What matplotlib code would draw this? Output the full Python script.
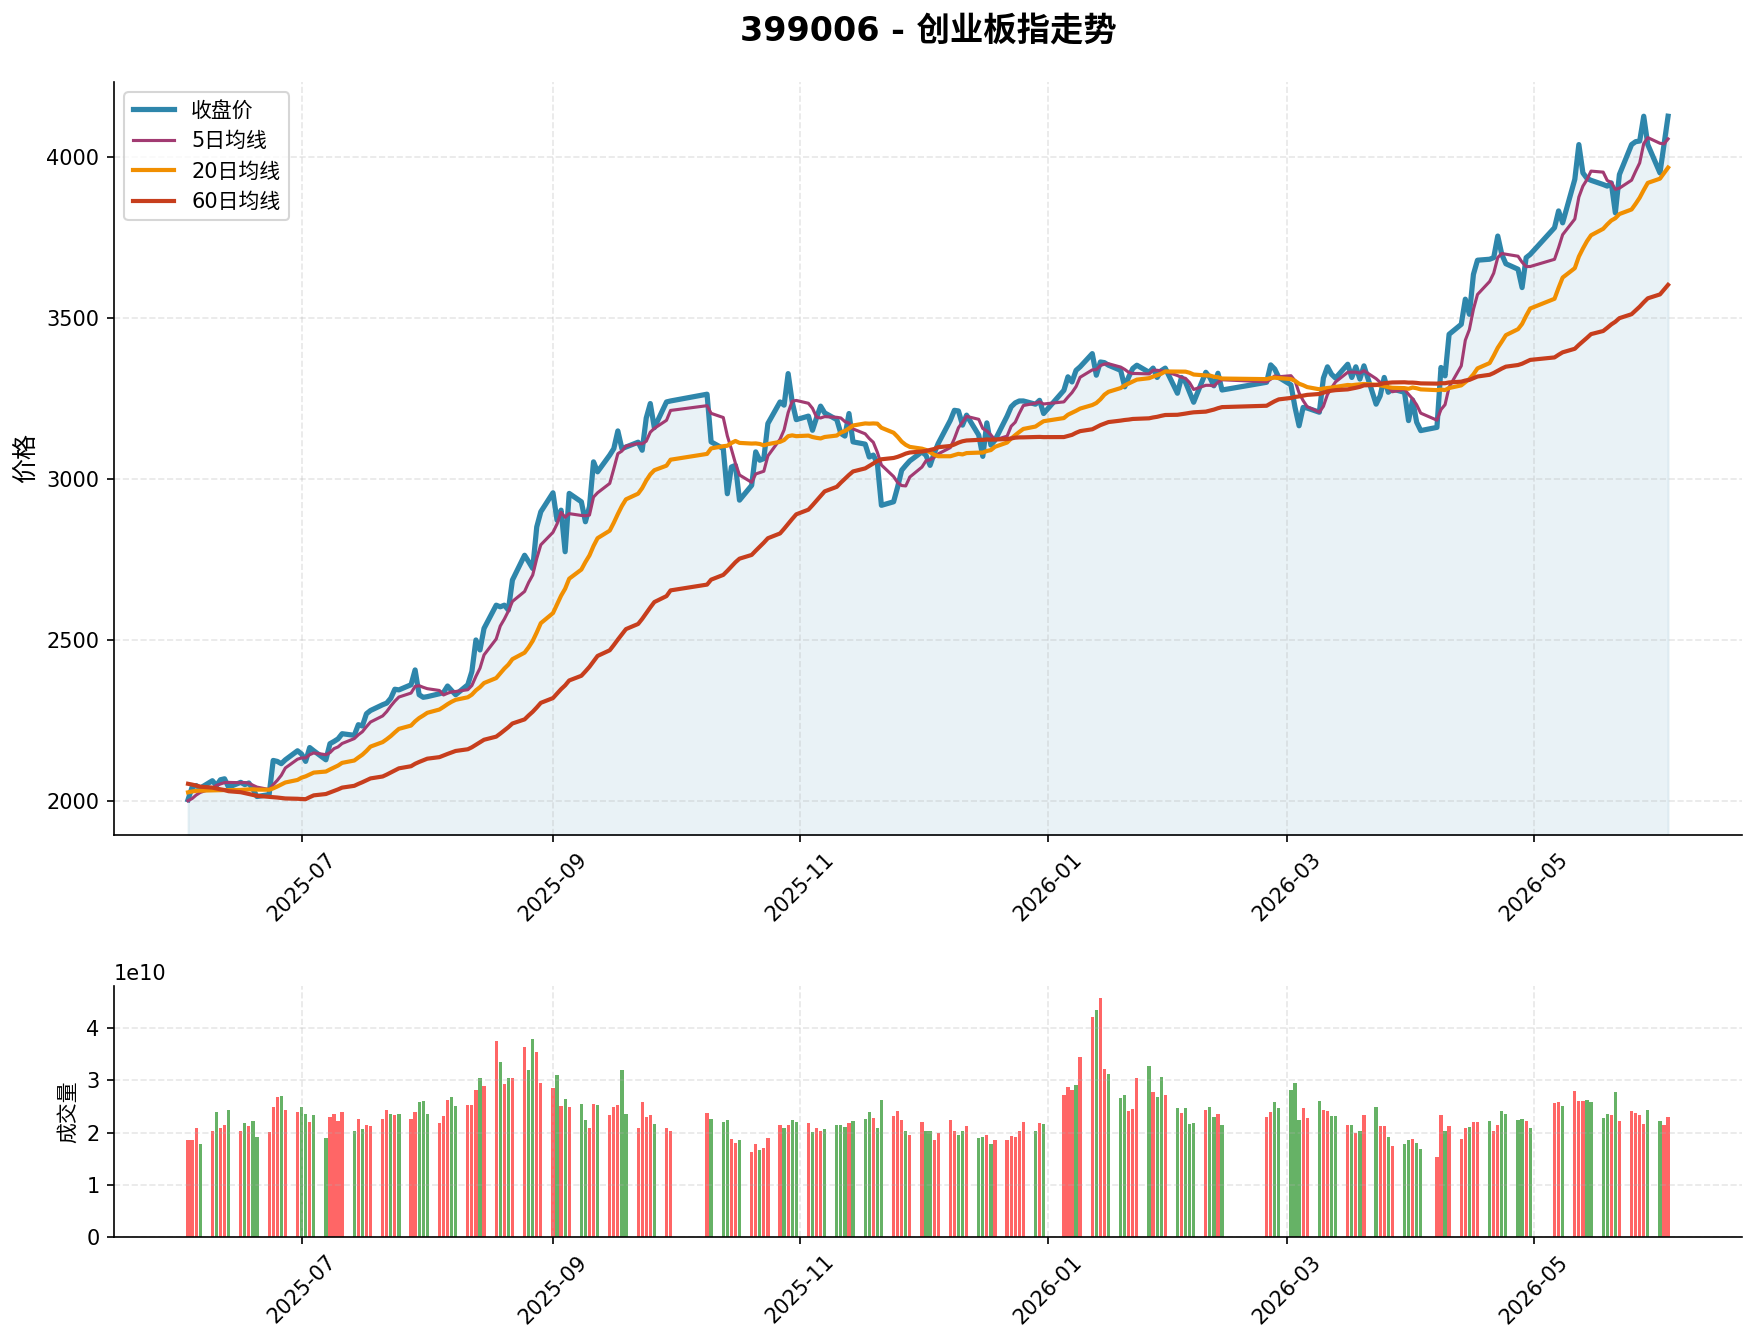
import numpy as np
import pandas as pd
import matplotlib
matplotlib.use("Agg")
import matplotlib.pyplot as plt
import matplotlib.dates as mdates

plt.rcParams['font.family'] = ['DejaVu Sans', 'Noto Sans CJK SC']
plt.rcParams['axes.unicode_minus'] = False

# trading calendar (SZSE), holidays removed from business days
start_date = '2025-06-03'
end_date = '2026-06-03'
holidays = ['2025-10-01', '2025-10-02', '2025-10-03', '2025-10-06', '2025-10-07', '2025-10-08',
            '2026-01-01', '2026-01-02',
            '2026-02-16', '2026-02-17', '2026-02-18', '2026-02-19', '2026-02-20', '2026-02-23',
            '2026-04-06', '2026-05-01', '2026-05-04', '2026-05-05']

# closes before the window, only used to seed the moving averages
pre_close = [2190, 2230, 2250, 2240, 2210, 2225, 2205, 2260, 2245, 2230,
             2215, 2200, 2190, 2210, 2195, 2185, 2200, 2220, 2215, 2195,
             2150, 1795, 1820, 1880, 1890, 1905, 1900, 1880, 1870, 1885,
             1914, 1919, 1929, 1939, 1954, 1944, 1949, 1959, 1964, 1954,
             1990, 2010, 2030, 2045, 2040, 2060, 2070, 2050, 2045, 2035,
             2040, 2030, 2035, 2030, 2041, 2010, 1995, 2000, 1999]

close_jun = [2005, 2044, 2049, 2041, 2064, 2049, 2067, 2070, 2044, 2059,
             2052, 2057, 2038, 2015, 2021, 2127, 2124, 2117, 2129]
close_jul = [2157, 2147, 2124, 2167, 2157, 2129, 2179, 2186, 2194, 2210,
             2205, 2238, 2234, 2272, 2282, 2300, 2305, 2320, 2348, 2346,
             2362, 2408, 2331, 2323, 2325]
close_aug = [2334, 2338, 2358, 2344, 2331, 2362, 2403, 2501, 2470, 2537,
             2609, 2604, 2609, 2594, 2687, 2764, 2744, 2723, 2852, 2899]
close_sep = [2958, 2873, 2904, 2775, 2956, 2930, 2868, 2915, 3054, 3023,
             3075, 3095, 3150, 3095, 3100, 3115, 3090, 3190, 3235, 3160,
             3240, 3243]
close_oct = [3264, 3116, 3095, 2955, 3038, 3043, 2935, 2981, 3085, 3059,
             3064, 3173, 3240, 3230, 3328, 3240, 3185]
close_nov = [3196, 3152, 3191, 3227, 3206, 3185, 3142, 3134, 3204, 3116,
             3109, 3069, 3075, 3049, 2919, 2930, 2976, 3028, 3043, 3057]
close_dec = [3085, 3074, 3043, 3080, 3111, 3183, 3214, 3212, 3168, 3199,
             3137, 3071, 3175, 3106, 3121, 3196, 3225, 3237, 3243, 3243,
             3233, 3245, 3204]
close_jan = [3276, 3318, 3302, 3338, 3349, 3390, 3323, 3364, 3362, 3354,
             3338, 3287, 3318, 3344, 3354, 3332, 3345, 3316, 3337, 3345]
close_feb = [3267, 3316, 3301, 3270, 3239, 3332, 3316, 3290, 3329, 3277,
             3301, 3355, 3342, 3316]
close_mar = [3293, 3223, 3166, 3223, 3221, 3208, 3314, 3349, 3326, 3314,
             3357, 3316, 3349, 3311, 3352, 3233, 3259, 3316, 3270, 3280,
             3270, 3182, 3246, 3177, 3151]
close_apr = [3161, 3347, 3321, 3450, 3481, 3559, 3512, 3636, 3680, 3683,
             3688, 3755, 3698, 3669, 3652, 3595, 3688, 3698]
close_may = [3781, 3833, 3796, 3931, 4039, 3951, 3934, 3928, 3915, 3910,
             3920, 3827, 3946, 4039, 4048, 4050, 4127, 4039]
close_jun2 = [3951, 4039, 4127]

# volume in units of 1e10
volume = [1.85, 1.85, 2.08, 1.78,
          2.03, 2.39, 2.08, 2.14, 2.43, 2.04, 2.18, 2.12, 2.22, 1.91,
          2.01, 2.49, 2.68, 2.70, 2.43, 2.39, 2.49, 2.35, 2.20, 2.33,
          1.89, 2.29, 2.35, 2.22, 2.39, 2.03, 2.26, 2.06, 2.14, 2.12,
          2.26, 2.43, 2.35, 2.33, 2.35, 2.26, 2.39, 2.58, 2.60, 2.35,
          2.18, 2.31, 2.62, 2.68, 2.51, 2.53, 2.53, 2.81, 3.04, 2.89,
          3.76, 3.35, 2.93, 3.04, 3.04, 3.64, 3.20, 3.79, 3.54, 2.95,
          2.85, 3.10, 2.51, 2.64, 2.49, 2.54, 2.24, 2.08, 2.54, 2.53,
          2.33, 2.49, 2.53, 3.20, 2.35, 2.08, 2.58, 2.29, 2.33, 2.16,
          2.08, 2.03,
          2.37, 2.26,
          2.20, 2.24, 1.87, 1.81, 1.85, 1.62, 1.78, 1.66, 1.70, 1.89,
          2.14, 2.08, 2.14, 2.24, 2.20, 2.18, 2.01, 2.08, 2.03, 2.06,
          2.14, 2.14, 2.10, 2.18, 2.22, 2.26, 2.39, 2.28, 2.08, 2.62,
          2.31, 2.41, 2.24, 2.04, 1.95, 2.20, 2.03, 2.04, 1.85, 1.99,
          2.24, 2.04, 1.95, 2.03, 2.12, 1.89, 1.91, 1.95, 1.78, 1.85,
          1.85, 1.93, 1.91, 2.03, 2.20, 2.04, 2.18, 2.16,
          2.72, 2.87, 2.81, 2.91, 3.45, 4.22, 4.35, 4.58, 3.22, 3.12,
          2.66, 2.72, 2.41, 2.45, 3.04, 3.28, 2.78, 2.68, 3.06, 2.72,
          2.47, 2.37, 2.47, 2.16, 2.18, 2.43, 2.49, 2.29, 2.35, 2.14,
          2.29, 2.39, 2.58, 2.47,
          2.81, 2.95, 2.24, 2.47, 2.28, 2.60, 2.43, 2.41, 2.31, 2.31,
          2.14, 2.14, 1.99, 2.04, 2.33, 2.49, 2.12, 2.12, 1.91, 1.74,
          1.78, 1.85, 1.87, 1.81, 1.68,
          1.53, 2.33, 2.03, 2.12, 1.87, 2.08, 2.10, 2.20, 2.20,
          2.22, 2.03, 2.14, 2.41, 2.35, 2.24, 2.26, 2.22, 2.08,
          2.56, 2.58, 2.51, 2.79, 2.60, 2.60, 2.62, 2.58,
          2.28, 2.35, 2.33, 2.78, 2.22, 2.41, 2.37, 2.33, 2.16, 2.43,
          2.22, 2.14, 2.29]
# R = close above open, G = below
vol_dir = ("RRRG RGRRG RGRGG RRRGR RGGRG GRRRR GRGRR RRGRG RRGGG RRRGG RRRGR"
           " RGRGR RGGRR RGRGR GGRRG RRRGG RRRRG RR RG GGRRG RRGRR RGRGG RGRRG"
           " GGGRG GGRGG RRRGR RGGRR RRGGR GGRGR RRRRR GRG RRRGR RGRRG GGRRR"
           " GRGGR GRGGG RGGRG RRGG GGGRR GRRGG RGRGR GRRGR GGRGG RRGR RRGRR"
           " GRRGG GGRG RRG RRRGG GGRGR RRRRG GRR").replace(" ", "")

dates = pd.bdate_range(start_date, end_date)
dates = dates[~dates.isin(pd.to_datetime(holidays))]

close = (close_jun + close_jul + close_aug + close_sep + close_oct + close_nov + close_dec
         + close_jan + close_feb + close_mar + close_apr + close_may + close_jun2)
n = len(close)
series = pd.Series(pre_close + close, dtype=float)
ma5 = series.rolling(5).mean().values[-n:]
ma20 = series.rolling(20).mean().values[-n:]
ma60 = series.rolling(60).mean().values[-n:]

fig = plt.figure(figsize=(1757 / 150, 1342 / 150), dpi=150)
ax1 = fig.add_axes([0.0649, 0.3778, 0.9266, 0.5611])
ax2 = fig.add_axes([0.0649, 0.0782, 0.9266, 0.1871])

ax1.plot(dates, close, color='#2E86AB', linewidth=2.5, label='收盘价')
ax1.plot(dates, ma5, color='#A23B72', linewidth=1.5, label='5日均线')
ax1.plot(dates, ma20, color='#F18F01', linewidth=2, label='20日均线')
ax1.plot(dates, ma60, color='#C73E1D', linewidth=2, label='60日均线')
ylim = ax1.get_ylim()
ax1.fill_between(dates, close, ylim[0], color='#2E86AB', alpha=0.1)
ax1.set_ylim(ylim)
ax1.set_title('399006 - 创业板指走势', fontsize=16, fontweight='bold', pad=20)
ax1.set_ylabel('价格', fontsize=12)
ax1.legend(loc='upper left')
ax1.grid(True, alpha=0.3, linestyle='--')

colors = ['red' if c == 'R' else 'green' for c in vol_dir]
ax2.bar(dates, np.array(volume) * 1e10, color=colors, alpha=0.6, width=0.8)
ax2.set_ylabel('成交量', fontsize=10)
ax2.grid(True, alpha=0.3, linestyle='--')
ax2.set_xlim(ax1.get_xlim())

for ax in (ax1, ax2):
    ax.spines['top'].set_visible(False)
    ax.spines['right'].set_visible(False)
    ax.xaxis.set_major_locator(mdates.MonthLocator(bymonth=[1, 3, 5, 7, 9, 11]))
    ax.xaxis.set_major_formatter(mdates.DateFormatter('%Y-%m'))
    plt.setp(ax.get_xticklabels(), rotation=45)

fig.savefig('out.png', dpi=150)
